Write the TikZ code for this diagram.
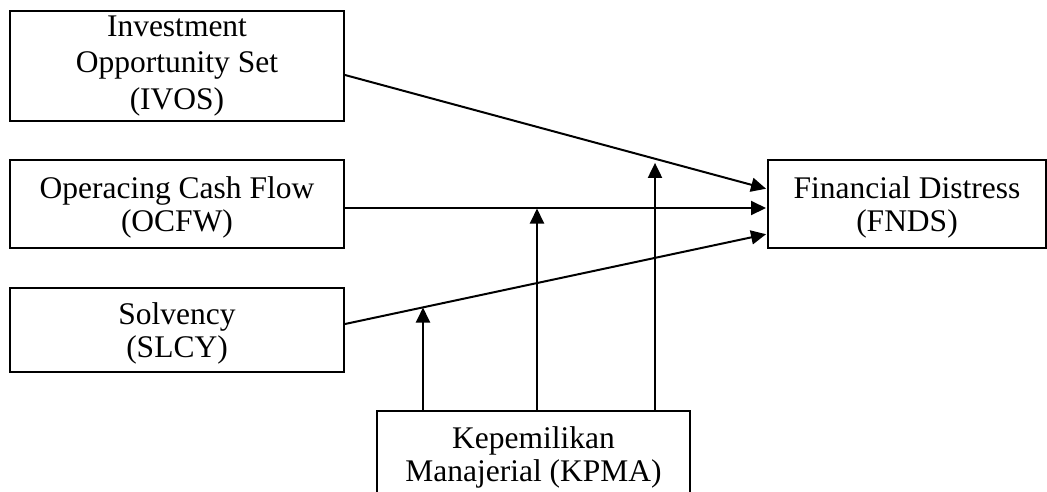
\documentclass[tikz,border=0pt]{standalone}
\usepackage{fontspec}
\setmainfont{Liberation Serif}
\usetikzlibrary{arrows.meta,calc}
\begin{document}
\begin{tikzpicture}[x=1pt,y=-1pt,
  box/.style={draw, line width=2pt, rectangle, inner sep=0pt, align=center,
    font=\fontsize{31.5}{36.5}\selectfont},
  twoline/.style={font=\fontsize{31.5}{32.5}\selectfont, text depth=0pt},
  txt/.style={inner sep=0pt, align=center, font=\fontsize{31.5}{33}\selectfont},
  conn/.style={line width=2pt, -{Triangle[length=15pt,width=14pt]}},
]
\useasboundingbox (0,0) rectangle (1047,491);
\clip (0,0) rectangle (1047,491);

\node[box, minimum width=334pt, minimum height=110pt] (ivos) at (177,66) {Investment\\Opportunity Set\\(IVOS)};
\node[box, twoline, minimum width=334pt, minimum height=88pt] (ocfw) at (177,204) {Operacing Cash Flow\\(OCFW)};
\node[box, twoline, minimum width=334pt, minimum height=84pt] (slcy) at (177,330) {Solvency\\(SLCY)};
\node[box, twoline, minimum width=278pt, minimum height=88pt] (fnds) at (907,204) {Financial Distress\\(FNDS)};
\node[box, anchor=north, minimum width=313pt, minimum height=110pt] (kpma) at (533.5,410) {};
\node[txt, anchor=base] (kpmatext) at (533.5,481) {Kepemilikan\\Manajerial (KPMA)};

% start and end points of the three main connectors
\coordinate (i1) at ($(ivos.east)+(0,9)$);
\coordinate (i2) at ($(fnds.west)+(0,-15)$);
\coordinate (o1) at ($(ocfw.east)+(0,4)$);
\coordinate (o2) at ($(fnds.west)+(0,4)$);
\coordinate (s1) at ($(slcy.east)+(0,-6)$);
\coordinate (s2) at ($(fnds.west)+(0,30)$);

\draw[conn, shorten >=1pt] (i1) -- (i2);
\draw[conn, shorten >=1pt] (o1) -- (o2);
\draw[conn, shorten >=1pt] (s1) -- (s2);

% moderator arrows
\coordinate (k1) at ($(kpma.north west)+(47,0)$);
\coordinate (k2) at ($(kpma.north west)+(161,0)$);
\coordinate (k3) at ($(kpma.north west)+(279,0)$);
\coordinate (m1) at ($(s1)!0.1887!(s2)$);
\coordinate (m2) at ($(o1)!0.4575!(o2)$);
\coordinate (m3) at ($(i1)!0.7358!(i2)$);

\draw[conn, shorten >=0.5pt] (k1) -- (k1 |- m1);
\draw[conn, shorten >=0.5pt] (k2) -- (k2 |- m2);
\draw[conn, shorten >=4pt] (k3) -- (k3 |- m3);
\end{tikzpicture}
\end{document}
